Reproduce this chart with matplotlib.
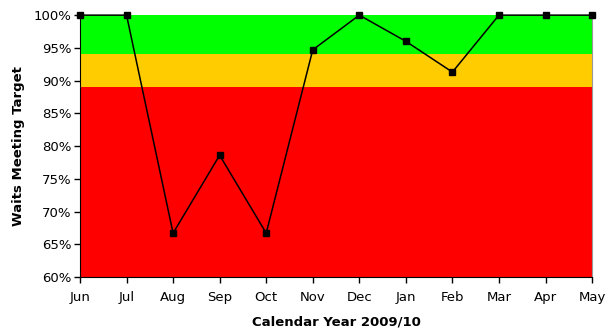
import matplotlib
matplotlib.use("Agg")
import matplotlib.pyplot as plt
from matplotlib.ticker import FuncFormatter

months = ["Jun", "Jul", "Aug", "Sep", "Oct", "Nov", "Dec", "Jan", "Feb", "Mar", "Apr", "May"]
pct_meeting = [100, 100, 66.7, 78.6, 66.7, 94.7, 100, 96.0, 91.3, 100, 100, 100]

# RAG bands (lower, upper, colour)
band_edges = [60, 89, 94, 100]
band_colors = ["#ff0000", "#ffcc00", "#00ff00"]

fig = plt.figure(figsize=(6.06, 3.29), dpi=100)
ax = fig.add_axes([0.132, 0.158, 0.845, 0.796])

for lo, hi, c in zip(band_edges[:-1], band_edges[1:], band_colors):
    ax.axhspan(lo, hi, color=c, lw=0, zorder=0)

x = list(range(len(months)))
ax.plot(x, pct_meeting, color="black", lw=1.1, marker="s", markersize=4.5, zorder=3, clip_on=False)

ax.set_xlim(0, len(months) - 1)
ax.set_ylim(60, 100)
ax.set_xticks(x)
ax.set_xticklabels(months)
ax.set_yticks(range(60, 101, 5))
ax.yaxis.set_major_formatter(FuncFormatter(lambda v, p: f"{v:.0f}%"))

ax.tick_params(axis="both", direction="out", length=4, width=1, labelsize=9.5, colors="black")
ax.tick_params(axis="x", pad=6)
ax.tick_params(axis="y", pad=2)

ax.spines["top"].set_visible(False)
ax.spines["right"].set_color("#999999")
ax.spines["left"].set_color("black")
ax.spines["bottom"].set_color("black")

ax.set_ylabel("Waits Meeting Target", fontsize=9.5, fontweight="bold", labelpad=6)
ax.set_xlabel("Calendar Year 2009/10", fontsize=9.5, fontweight="bold", labelpad=8)

fig.savefig("out.png", dpi=100)
